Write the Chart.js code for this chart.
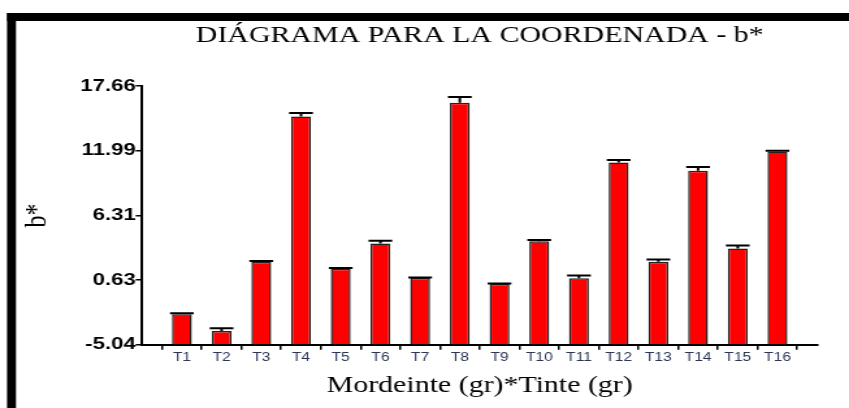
<!DOCTYPE html>
<html>
<head>
<meta charset="utf-8">
<script src="https://cdn.jsdelivr.net/npm/chart.js@4.4.1/dist/chart.umd.min.js"></script>
<style>
  html, body { margin: 0; padding: 0; background: #fff; overflow: hidden; }
  /* the original picture is stretched sideways, so the chart is too */
  #wrap { width: 653px; height: 408px; transform: scaleX(1.3002); transform-origin: 0 0; }
</style>
</head>
<body>
<div id="wrap"><canvas id="myChart" width="653" height="408"></canvas></div>
<script>
const categories = ["T1", "T2", "T3", "T4", "T5", "T6", "T7", "T8", "T9", "T10", "T11", "T12", "T13", "T14", "T15", "T16"];
const bStar = [-2.36, -3.82, 2.25, 14.98, 1.64, 3.85, 0.82, 16.2, 0.29, 4.05, 0.79, 10.96, 2.25, 10.23, 3.41, 11.92];
const bStarErr = [0.08, 0.24, 0.05, 0.32, 0.05, 0.24, 0.05, 0.5, 0.05, 0.1, 0.24, 0.2, 0.2, 0.32, 0.26, 0.05];
const yTicks = [-5.04, 0.63, 6.31, 11.99, 17.66];

// one empty slot on each side of the bars
const labels = ["", ...categories, ""];
const values = [null, ...bStar, null];

const errorBars = {
  id: "errorBars",
  afterDatasetsDraw(chart) {
    const ctx = chart.ctx;
    const meta = chart.getDatasetMeta(0);
    const yScale = chart.scales.y;
    ctx.save();
    ctx.strokeStyle = "#000";
    ctx.lineWidth = 2;
    meta.data.forEach((bar, i) => {
      const k = i - 1;
      if (k < 0 || k >= bStar.length) return;
      const top = yScale.getPixelForValue(bStar[k]);
      const cap = yScale.getPixelForValue(bStar[k] + bStarErr[k]);
      const half = bar.width / 2 + 1.5;
      ctx.beginPath();
      ctx.moveTo(bar.x, top);
      ctx.lineTo(bar.x, cap);
      ctx.moveTo(bar.x - half, cap);
      ctx.lineTo(bar.x + half, cap);
      ctx.stroke();
    });
    ctx.restore();
  },
};

// thick black frame on the top and left edges
const frame = {
  id: "frame",
  afterDraw(chart) {
    const ctx = chart.ctx;
    ctx.save();
    ctx.fillStyle = "#000";
    ctx.fillRect(5.4, 13, chart.width, 8);
    ctx.fillRect(5.4, 13, 6.9, chart.height);
    ctx.restore();
  },
};

const ctx = document.getElementById("myChart");
new Chart(ctx, {
  type: "bar",
  data: {
    labels: labels,
    datasets: [
      {
        label: "b*",
        data: values,
        base: yTicks[0],
        backgroundColor: "#ff0000",
        borderColor: "#222",
        borderWidth: 1.5,
        barPercentage: 0.5,
        categoryPercentage: 1,
      },
    ],
  },
  options: {
    responsive: false,
    animation: false,
    devicePixelRatio: 1,
    layout: { padding: { top: 0, left: 11, right: 24.5, bottom: 8.2 } },
    plugins: {
      legend: { display: false },
      tooltip: { enabled: false },
      title: {
        display: true,
        text: "DIÁGRAMA PARA LA COORDENADA - b*",
        fullSize: false,
        color: "#000",
        font: { family: "'Liberation Serif', 'Times New Roman', serif", size: 23, weight: "normal" },
        padding: { top: 22, bottom: 36.4 },
      },
    },
    scales: {
      x: {
        offset: false,
        border: { display: true, color: "#000", width: 2 },
        grid: { drawOnChartArea: false, drawTicks: true, tickLength: 5, color: "#000", lineWidth: 1.5 },
        ticks: {
          autoSkip: false,
          maxRotation: 0,
          padding: 1,
          color: "#2c3654",
          font: { family: "'Liberation Sans', Arial, sans-serif", size: 12 },
        },
        title: {
          display: true,
          text: "Mordeinte (gr)*Tinte (gr)",
          color: "#000",
          font: { family: "'Liberation Serif', 'Times New Roman', serif", size: 23 },
          padding: { top: 6, bottom: 0 },
        },
      },
      y: {
        min: yTicks[0],
        max: yTicks[yTicks.length - 1],
        afterBuildTicks: (scale) => {
          scale.ticks = yTicks.map((v) => ({ value: v }));
        },
        border: { display: true, color: "#000", width: 2 },
        grid: { drawOnChartArea: false, drawTicks: true, tickLength: 5, color: "#000", lineWidth: 1.5 },
        ticks: {
          padding: 0,
          color: "#000",
          font: { family: "'Liberation Sans', Arial, sans-serif", size: 17, weight: "bold" },
          callback: (v) => Number(v).toFixed(2),
        },
        title: {
          display: true,
          text: "b*",
          color: "#000",
          font: { family: "'Liberation Serif', 'Times New Roman', serif", size: 24 },
          padding: { top: 3, bottom: 19 },
        },
      },
    },
  },
  plugins: [errorBars, frame],
});
</script>
</body>
</html>
